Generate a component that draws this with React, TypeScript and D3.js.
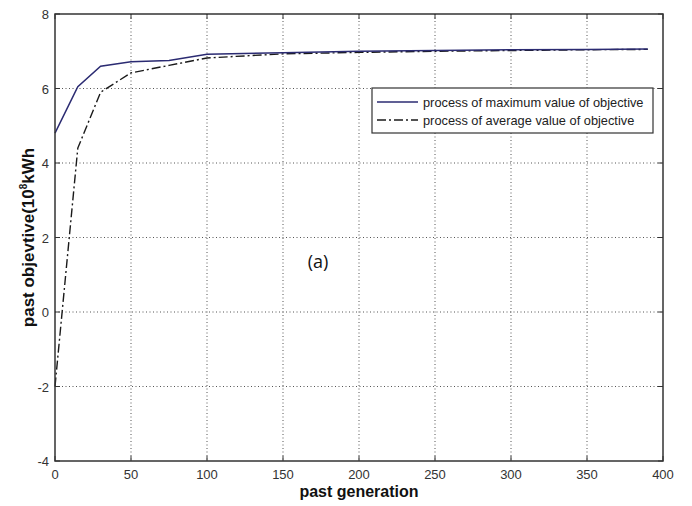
import React from 'react'
import * as d3 from 'd3'

// generation index of the sampled points
const generations = [0, 15, 30, 50, 75, 100, 150, 200, 250, 300, 350, 390]
// process of maximum value of objective
const maxValues = [4.8, 6.05, 6.6, 6.72, 6.75, 6.92, 6.96, 7.0, 7.02, 7.04, 7.05, 7.06]
// process of average value of objective
const avgValues = [-2.0, 4.4, 5.9, 6.42, 6.62, 6.82, 6.93, 6.97, 7.0, 7.02, 7.04, 7.05]

const xTicks = [0, 50, 100, 150, 200, 250, 300, 350, 400]
const yTicks = [-4, -2, 0, 2, 4, 6, 8]
const legendLabels = ['process of maximum value of objective', 'process of average value of objective']

const W = 692
const H = 506
const margin = { left: 55, right: 663, top: 14, bottom: 461 }

export default function App() {
    const x = d3.scaleLinear().domain([0, 400]).range([margin.left, margin.right])
    const y = d3.scaleLinear().domain([-4, 8]).range([margin.bottom, margin.top])

    const line = d3.line<number>()
        .x((d, i) => x(generations[i]))
        .y(d => y(d))

    const tickFont = '"Liberation Sans", Arial, sans-serif'
    const gridColor = '#555'

    return (
        <svg width={W} height={H} style={{ position: 'absolute', left: 0, top: 0, background: '#fff' }}>
            {/* grid */}
            {xTicks.slice(1, -1).map(t => (
                <line key={'gx' + t} x1={x(t)} x2={x(t)} y1={margin.top} y2={margin.bottom}
                    stroke={gridColor} strokeWidth={1} strokeDasharray="1,2.5" />
            ))}
            {yTicks.slice(1, -1).map(t => (
                <line key={'gy' + t} x1={margin.left} x2={margin.right} y1={y(t)} y2={y(t)}
                    stroke={gridColor} strokeWidth={1} strokeDasharray="1,2.5" />
            ))}

            {/* tick marks on all sides */}
            {xTicks.map(t => (
                <g key={'tx' + t}>
                    <line x1={x(t)} x2={x(t)} y1={margin.bottom} y2={margin.bottom - 5} stroke="#333" />
                    <line x1={x(t)} x2={x(t)} y1={margin.top} y2={margin.top + 5} stroke="#333" />
                </g>
            ))}
            {yTicks.map(t => (
                <g key={'ty' + t}>
                    <line x1={margin.left} x2={margin.left + 5} y1={y(t)} y2={y(t)} stroke="#333" />
                    <line x1={margin.right} x2={margin.right - 5} y1={y(t)} y2={y(t)} stroke="#333" />
                </g>
            ))}

            {/* curves */}
            <path d={line(avgValues) || ''} fill="none" stroke="#1a1a1a" strokeWidth={1.4}
                strokeDasharray="9,3,2,3" />
            <path d={line(maxValues) || ''} fill="none" stroke="#2b2b72" strokeWidth={1.5} />

            {/* axes box */}
            <rect x={margin.left} y={margin.top} width={margin.right - margin.left}
                height={margin.bottom - margin.top} fill="none" stroke="#333" strokeWidth={1.5} />

            {/* tick labels */}
            {xTicks.map(t => (
                <text key={'lx' + t} x={x(t)} y={margin.bottom + 18} textAnchor="middle"
                    fontFamily={tickFont} fontSize={13} fill="#333">{t}</text>
            ))}
            {yTicks.map(t => (
                <text key={'ly' + t} x={margin.left - 6} y={y(t) + 5} textAnchor="end"
                    fontFamily={tickFont} fontSize={13} fill="#333">{t}</text>
            ))}

            {/* axis titles */}
            <text x={(margin.left + margin.right) / 2} y={497} textAnchor="middle"
                fontFamily={tickFont} fontSize={16} fontWeight="bold" fill="#111">past generation</text>
            <text transform={`translate(34,${(margin.top + margin.bottom) / 2}) rotate(-90)`} textAnchor="middle"
                fontFamily={tickFont} fontSize={17} fontWeight="bold" fill="#111">
                past objevtive(10<tspan fontSize={10} dy={-7}>8</tspan><tspan dy={7}>kWh</tspan>
            </text>

            {/* legend */}
            <rect x={372} y={88} width={281} height={45} fill="#fff" stroke="#333" strokeWidth={1.2} />
            <line x1={377} x2={418} y1={102} y2={102} stroke="#2b2b72" strokeWidth={1.5} />
            <line x1={377} x2={418} y1={120} y2={120} stroke="#1a1a1a" strokeWidth={1.4} strokeDasharray="9,3,2,3" />
            {legendLabels.map((l, i) => (
                <text key={l} x={423} y={106.5 + i * 18} fontFamily={tickFont} fontSize={12.8} fill="#222">{l}</text>
            ))}

            {/* panel label */}
            <text x={318} y={268} textAnchor="middle" fontFamily='"Open Sans", sans-serif' fontSize={18} fill="#111">(a)</text>
        </svg>
    )
}
